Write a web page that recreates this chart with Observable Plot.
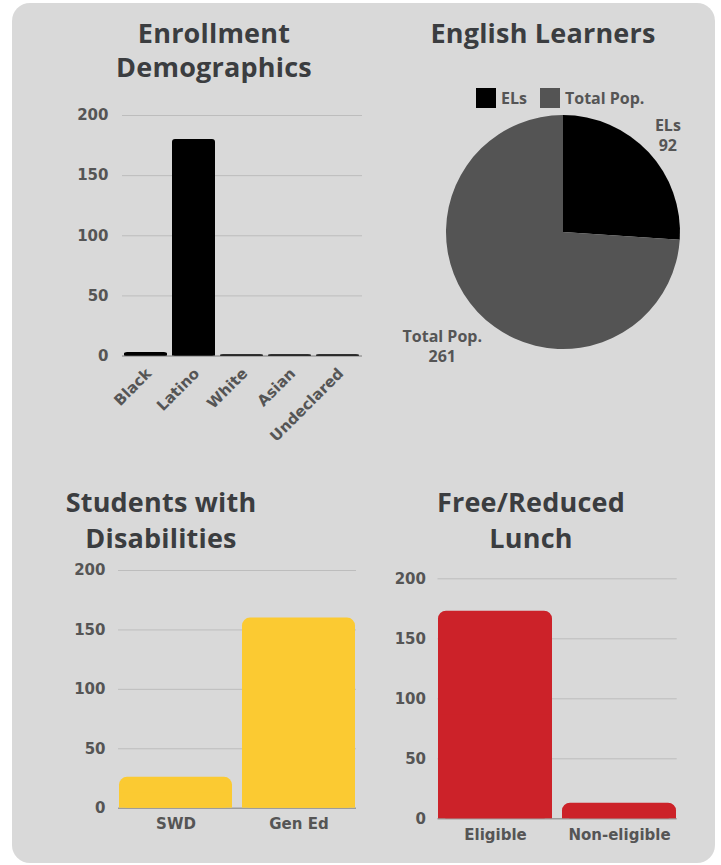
<!DOCTYPE html>
<html>
<head>
<meta charset="utf-8">
<script src="https://cdn.jsdelivr.net/npm/d3@7"></script>
<script src="https://cdn.jsdelivr.net/npm/@observablehq/plot@0.6"></script>
<style>
  html, body { margin: 0; padding: 0; background: #ffffff; }
  #wrap { position: relative; width: 721px; height: 865px; overflow: hidden; font-family: "Open Sans", sans-serif; }
  #panel { position: absolute; left: 12px; top: 3px; width: 703px; height: 860px; background: #d9d9d9; border-radius: 18px; }
  .title { position: absolute; width: 300px; text-align: center; font-weight: 700; font-size: 27px; color: #3b3d40; letter-spacing: 0.2px; }
  .box { position: absolute; }
  .box svg { display: block; }
  #legend { position: absolute; left: 476px; top: 87px; display: flex; align-items: center; font-weight: 700; font-size: 16px; color: #555555; }
  #legend .sw { width: 20px; height: 20px; margin-right: 5px; }
  #legend .item { display: flex; align-items: center; margin-right: 13px; }
</style>
</head>
<body>
<div id="wrap">
  <div id="panel"></div>
  <div class="title" id="t1" style="left:64px; top:16px; line-height:34px;"></div>
  <div class="title" id="t2" style="left:393px; top:16px; line-height:34px;"></div>
  <div class="title" id="t3" style="left:11px; top:484px; line-height:36px;"></div>
  <div class="title" id="t4" style="left:381px; top:484px; line-height:36px;"></div>
  <div id="legend"></div>
  <div class="box" id="c1" style="left:0px; top:100px;"></div>
  <div class="box" id="c2" style="left:413px; top:100px;"></div>
  <div class="box" id="c3" style="left:0px; top:555px;"></div>
  <div class="box" id="c4" style="left:320px; top:563px;"></div>
</div>
<script>
// ---------- data ----------
const titles = [
  ["Enrollment", "Demographics"],
  ["English Learners"],
  ["Students with", "Disabilities"],
  ["Free/Reduced", "Lunch"]
];

const enrollCategories = ["Black", "Latino", "White", "Asian", "Undeclared"];
const enrollValues = [3, 180, 1, 1, 1];

const elCategories = ["ELs", "Total Pop."];
const elValues = [92, 261];
const elColors = ["#000000", "#545454"];

const swdCategories = ["SWD", "Gen Ed"];
const swdValues = [26, 160];

const frlCategories = ["Eligible", "Non-eligible"];
const frlValues = [173, 13];

const yTicks = [0, 50, 100, 150, 200];

// ---------- titles ----------
["t1", "t2", "t3", "t4"].forEach((id, i) => {
  const el = document.getElementById(id);
  titles[i].forEach(line => {
    const d = document.createElement("div");
    d.textContent = line;
    el.appendChild(d);
  });
});

// ---------- legend ----------
const legend = document.getElementById("legend");
elCategories.forEach((c, i) => {
  const item = document.createElement("div");
  item.className = "item";
  const sw = document.createElement("div");
  sw.className = "sw";
  sw.style.background = elColors[i];
  const tx = document.createElement("span");
  tx.textContent = c;
  item.appendChild(sw);
  item.appendChild(tx);
  legend.appendChild(item);
});

const baseStyle = {
  fontFamily: "DejaVu Sans, sans-serif",
  fontSize: "15px",
  fontWeight: 700,
  color: "#555555",
  background: "transparent",
  overflow: "visible"
};

function barChart({cats, vals, fill, width, height, margins, radius, rotate, xPad, xPadTick}) {
  const data = cats.map((c, i) => ({cat: c, value: vals[i]}));
  return Plot.plot({
    width, height,
    marginLeft: margins[0], marginRight: margins[1], marginTop: margins[2], marginBottom: margins[3],
    style: baseStyle,
    x: {domain: cats, paddingInner: xPad, paddingOuter: 0, label: null},
    y: {domain: [0, 200], label: null},
    marks: [
      Plot.gridY(yTicks, {stroke: "#bdbdbd", strokeOpacity: 1, strokeWidth: 1}),
      Plot.ruleY([0], {stroke: "#8a8a8a", strokeWidth: 1}),
      Plot.barY(data, {x: "cat", y: "value", fill, rx: radius, ry: radius}),
      Plot.barY(data, {x: "cat", y1: 0, y2: d => d.value / 2, fill}),
      Plot.axisY(yTicks, {tickSize: 0, tickPadding: margins[4], label: null, fontSize: 15}),
      rotate
        ? Plot.axisX({tickSize: 0, tickPadding: xPadTick, tickRotate: -45, label: null, fontSize: 15, dx: 3})
        : Plot.axisX({tickSize: 0, tickPadding: xPadTick, label: null, fontSize: 15})
    ]
  });
}

// ---------- chart 1: enrollment ----------
document.getElementById("c1").appendChild(barChart({
  cats: enrollCategories, vals: enrollValues, fill: "#000000",
  width: 380, height: 360, margins: [122, 18, 15, 104.5, 14], radius: 3, rotate: true, xPad: 0.1, xPadTick: 15
}));

// ---------- chart 3: students with disabilities ----------
document.getElementById("c3").appendChild(barChart({
  cats: swdCategories, vals: swdValues, fill: "#fbca32",
  width: 380, height: 300, margins: [118, 24, 15, 47.3, 13], radius: 8, rotate: false, xPad: 0.08, xPadTick: 10
}));

// ---------- chart 4: free/reduced lunch ----------
document.getElementById("c4").appendChild(barChart({
  cats: frlCategories, vals: frlValues, fill: "#cc2229",
  width: 380, height: 300, margins: [117.5, 23.3, 15.3, 44.7, 12], radius: 8, rotate: false, xPad: 0.08, xPadTick: 10.5
}));

// ---------- chart 2: pie ----------
const R = 117;
const pieData = elCategories.map((c, i) => ({label: c, value: elValues[i], color: elColors[i]}));
const arcs = d3.pie().sort(null).value(d => d.value)(pieData);
const labelData = arcs.map(a => {
  const mid = (a.startAngle + a.endAngle) / 2;
  const text = a.data.label + "\n" + a.data.value;
  // keep the outside label clear of the slice edge: wider labels sit further out
  const maxLen = Math.max(...text.split("\n").map(s => s.length));
  const lr = R + 16 + 3.3 * maxLen;
  return {x: Math.sin(mid) * lr, y: -Math.cos(mid) * lr, text};
});

function pieMark(index, scales) {
  const g = d3.create("svg:g");
  const cx = scales.x(0), cy = scales.y(0);
  const r = scales.x(R) - scales.x(0);
  const arc = d3.arc().innerRadius(0).outerRadius(r);
  g.attr("transform", `translate(${cx},${cy})`);
  g.selectAll("path").data(arcs).join("path")
    .attr("d", arc)
    .attr("fill", d => d.data.color);
  return g.node();
}

document.getElementById("c2").appendChild(Plot.plot({
  width: 300, height: 264,
  margin: 0,
  style: {...baseStyle, fontFamily: "Open Sans, sans-serif"},
  x: {domain: [-150, 150], range: [0, 300], axis: null},
  y: {domain: [-132, 132], range: [0, 264], axis: null},
  marks: [
    pieMark,
    Plot.text(labelData, {x: "x", y: "y", text: "text", fontSize: 16, fontWeight: 700, fill: "#555555", lineHeight: 1.25})
  ]
}));
</script>
</body>
</html>
